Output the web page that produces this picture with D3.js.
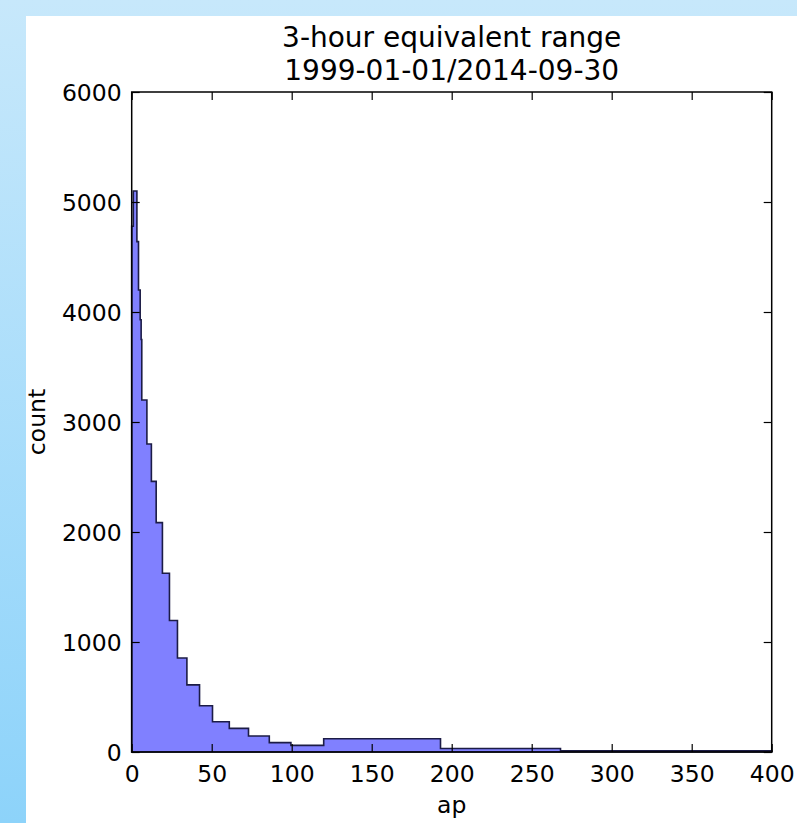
<!DOCTYPE html>
<html>
<head>
<meta charset="utf-8">
<script src="https://cdn.jsdelivr.net/npm/d3@7"></script>
<style>
  html, body { margin: 0; padding: 0; }
  body { width: 797px; height: 823px; overflow: hidden; }
  svg { display: block; }
  text { font-family: "DejaVu Sans", sans-serif; fill: #000; }
</style>
</head>
<body>
<svg id="chart" width="797" height="823"></svg>
<script>
// ---- data ----
const binEdges = [0, 1.0, 3.25, 4.25, 5.3, 5.9, 6.3, 9.5, 12.3, 15.3, 19.2, 23.6, 28.6, 34.5, 42.4, 50.5, 61, 73, 86, 99.5, 120, 193, 268, 400];
const binCounts = [4780, 5100, 4640, 4200, 3930, 3750, 3200, 2800, 2460, 2085, 1625, 1195, 855, 610, 420, 275, 215, 145, 85, 60, 120, 32, 12];
const xTicks = [0, 50, 100, 150, 200, 250, 300, 350, 400];
const yTicks = [0, 1000, 2000, 3000, 4000, 5000, 6000];
const titleLines = ["3-hour equivalent range", "1999-01-01/2014-09-30"];
const xLabel = "ap";
const yLabel = "count";

const W = 797, H = 823;
const margin = { left: 131.7, right: 25.3, top: 92, bottom: 71 };
const svg = d3.select("#chart");

// background
const defs = svg.append("defs");
const grad = defs.append("linearGradient").attr("id", "bg").attr("x1", 0).attr("y1", 0).attr("x2", 0).attr("y2", 1);
grad.append("stop").attr("offset", "0%").attr("stop-color", "#c7e8fb");
grad.append("stop").attr("offset", "100%").attr("stop-color", "#8dd3fa");
svg.append("rect").attr("width", W).attr("height", H).attr("fill", "url(#bg)");
svg.append("rect").attr("x", 26).attr("y", 16).attr("width", W - 26).attr("height", H - 16).attr("fill", "#ffffff");

const x = d3.scaleLinear().domain([0, 400]).range([margin.left, W - margin.right]);
const y = d3.scaleLinear().domain([0, 6000]).range([H - margin.bottom, margin.top]);

// histogram (stepfilled)
const bins = binCounts.map((c, i) => ({ x0: binEdges[i], x1: binEdges[i + 1], c }));
const pts = [[binEdges[0], 0]];
bins.forEach(b => { pts.push([b.x0, b.c]); pts.push([b.x1, b.c]); });
pts.push([binEdges[binEdges.length - 1], 0]);
const line = d3.line().x(d => x(d[0])).y(d => y(d[1]));
svg.append("path")
  .attr("d", line(pts) + "Z")
  .attr("fill", "#8080ff")
  .attr("stroke", "#1c1c46")
  .attr("stroke-width", 1.6)
  .attr("stroke-linejoin", "miter");

// axes (ticks inward on all four sides)
const fs = 23.5;
const gB = svg.append("g").attr("transform", `translate(0,${y(0)})`)
  .call(d3.axisBottom(x).tickValues(xTicks).tickSize(-8).tickPadding(14).tickFormat(d3.format("d")));
const gT = svg.append("g").attr("transform", `translate(0,${y(6000)})`)
  .call(d3.axisTop(x).tickValues(xTicks).tickSize(-8).tickFormat(""));
const gL = svg.append("g").attr("transform", `translate(${x(0)},0)`)
  .call(d3.axisLeft(y).tickValues(yTicks).tickSize(-8).tickPadding(10).tickFormat(d3.format("d")));
const gR = svg.append("g").attr("transform", `translate(${x(400)},0)`)
  .call(d3.axisRight(y).tickValues(yTicks).tickSize(-8).tickFormat(""));

[gB, gT, gL, gR].forEach(g => {
  g.select(".domain").remove();
  g.selectAll(".tick line").attr("stroke", "#000").attr("stroke-width", 1.2);
  g.selectAll("text").attr("font-family", "DejaVu Sans").attr("font-size", fs).attr("fill", "#000");
});
gB.selectAll(".tick text").attr("dy", "0.71em").attr("y", 13);
gL.selectAll(".tick text").attr("x", -10).attr("dy", "0.36em");

// frame
svg.append("rect")
  .attr("x", x(0)).attr("y", y(6000))
  .attr("width", x(400) - x(0)).attr("height", y(0) - y(6000))
  .attr("fill", "none").attr("stroke", "#000").attr("stroke-width", 1.5);

// title
const cx = (x(0) + x(400)) / 2;
svg.append("text").attr("x", cx).attr("y", 47).attr("text-anchor", "middle").attr("font-size", 28).text(titleLines[0]);
svg.append("text").attr("x", cx).attr("y", 80).attr("text-anchor", "middle").attr("font-size", 28).text(titleLines[1]);

// axis labels
svg.append("text").attr("x", cx).attr("y", 813).attr("text-anchor", "middle").attr("font-size", fs).text(xLabel);
svg.append("text").attr("transform", `translate(45,${(y(0) + y(6000)) / 2}) rotate(-90)`)
  .attr("text-anchor", "middle").attr("font-size", fs).text(yLabel);
</script>
</body>
</html>
